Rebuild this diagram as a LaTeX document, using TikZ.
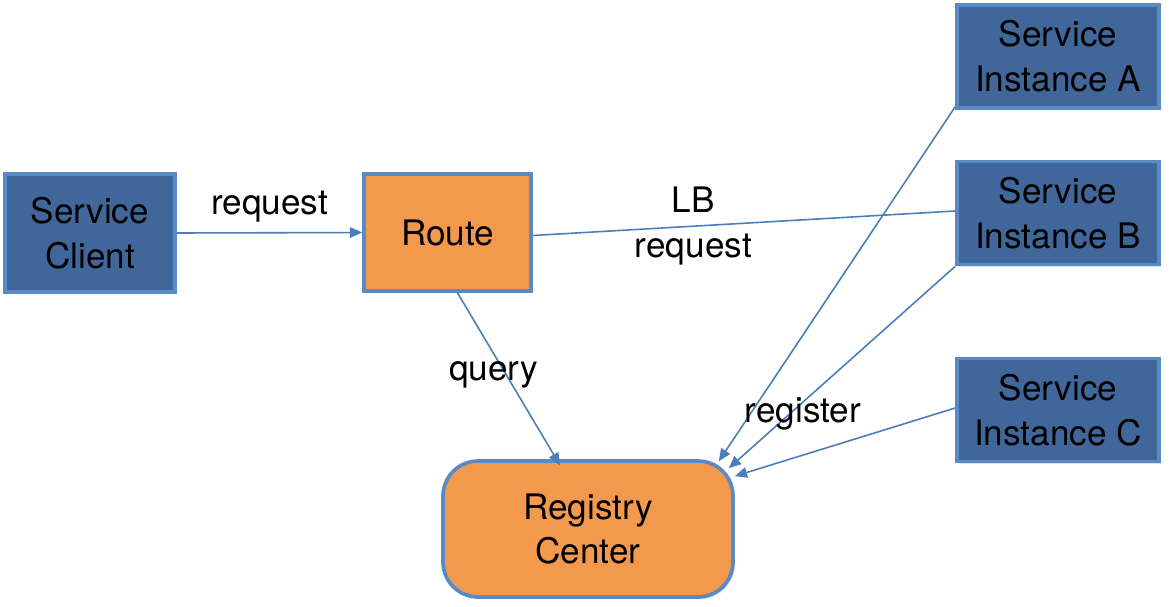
\documentclass[tikz,border=0pt]{standalone}
\usepackage{fontspec}
\setmainfont{TeX Gyre Heros}
\usetikzlibrary{positioning,calc,arrows.meta,shadows}
\definecolor{boxblue}{HTML}{41679A}
\definecolor{edgeblue}{HTML}{5A8AC6}
\definecolor{routeorange}{HTML}{F3994E}
\definecolor{linkblue}{HTML}{4A7EBB}
\tikzset{>={Triangle[length=7pt,width=6pt]}}
\tikzset{
  box/.style={draw=edgeblue, line width=2.1pt, align=center,
    font=\fontsize{20}{25.5}\selectfont,
    drop shadow={shadow xshift=1.2pt, shadow yshift=-1.2pt, opacity=0.25}},
  service/.style={box, fill=boxblue},
  router/.style={box, fill=routeorange},
  link/.style={draw=linkblue, line width=0.9pt},
  tag/.style={font=\fontsize{20}{25.5}\selectfont, align=center}
}

\begin{document}
\begin{tikzpicture}[x=0.02cm, y=-0.02cm]
\useasboundingbox (0,0) rectangle (1174,606);
% boxes
\node[service, minimum width=3.4cm, minimum height=2.36cm] (client) at (90,233) {Service\\Client};
\node[router, minimum width=3.34cm, minimum height=2.34cm] (route) at (447.5,232.5) {Route};
\node[router, rounded corners=0.7cm, minimum width=5.8cm, minimum height=2.72cm] (reg) at (588,529) {Registry\\Center};
\node[service, minimum width=4.04cm, minimum height=2.06cm] (instA) at (1058,56.5) {Service\\Instance A};
\node[service, minimum width=4.04cm, minimum height=2.06cm] (instB) at (1058,213) {Service\\Instance B};
\node[service, minimum width=4.04cm, minimum height=2.06cm] (instC) at (1058,410) {Service\\Instance C};
% connectors
\draw[link,->] (client.east) -- (route.west) node[tag, midway, above, yshift=2pt] {request};
\draw[link] ($(route.east)+(0,3)$) -- ($(instB.west)+(0,-2)$) node[tag, pos=0.38] {LB\\request};
\draw[link,->] ($(route.south)+(10,0)$) -- ($(reg.north)+(-28,6)$) node[tag, pos=0.44, xshift=-0.18cm, yshift=-0.12cm] {query};
\draw[link,->] ($(instA.south west)+(0,-3)$) -- ($(reg.north east)+(-16,2)$);
\draw[link,->] (instB.south west) -- ($(reg.north east)+(-6,9)$);
\draw[link,->] ($(instC.west)+(0,-2)$) -- ($(reg.north east)+(0,17)$);
\node[tag] (regtag) at (803,414) {register};
\end{tikzpicture}
\end{document}
